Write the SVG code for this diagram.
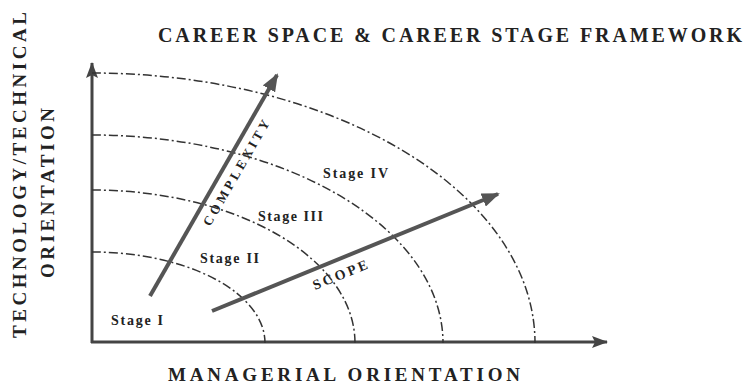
<svg xmlns="http://www.w3.org/2000/svg" width="745" height="384" viewBox="0 0 745 384">
<style>
.t{font-family:"Liberation Serif","Times New Roman",serif;font-weight:bold;fill:#222}
.arc{fill:none;stroke:#333;stroke-width:1.5;stroke-dasharray:9 3 2 3}
.ax{stroke:#444;stroke-width:3;fill:none}
.dir{stroke:#555;stroke-width:4;fill:none}
</style>
<defs>
<marker id="ah" markerUnits="userSpaceOnUse" markerWidth="18" markerHeight="14" viewBox="0 0 18 14" refX="16" refY="7" orient="auto">
<path d="M0,0 L18,7 L0,14 Z" fill="#555"/>
</marker>
<marker id="axh" markerUnits="userSpaceOnUse" markerWidth="16" markerHeight="12" viewBox="0 0 16 12" refX="15" refY="6" orient="auto">
<path d="M0,0 L16,6 L0,12 L3,6 Z" fill="#444"/>
</marker>
</defs>
<rect width="745" height="384" fill="#fff"/>
<text class="t" x="158" y="42" font-size="20" textLength="584" lengthAdjust="spacing">CAREER SPACE &amp; CAREER STAGE FRAMEWORK</text>
<g id="y-label">
<text class="t" font-size="19" transform="translate(26,338) rotate(-90)" textLength="326" lengthAdjust="spacing">TECHNOLOGY/TECHNICAL</text>
<text class="t" font-size="19" transform="translate(54,278) rotate(-90)" textLength="170" lengthAdjust="spacing">ORIENTATION</text>
</g>
<g id="x-label">
<text class="t" x="168" y="381" font-size="19" textLength="352" lengthAdjust="spacing">MANAGERIAL ORIENTATION</text>
</g>
<g id="connectors">
<line id="y-axis" class="ax" x1="92" y1="343" x2="92" y2="63" marker-end="url(#axh)"/>
<line id="x-axis" class="ax" x1="91" y1="342" x2="607" y2="342" marker-end="url(#axh)"/>
<path class="arc" d="M92,252 A173,91 0 0 1 265,343"/>
<path class="arc" d="M92,190 A263,153 0 0 1 355,343"/>
<path class="arc" d="M92,135 A351,208 0 0 1 443,343"/>
<path class="arc" d="M92,73 A443,270 0 0 1 535,343"/>
<line id="complexity" class="dir" x1="150" y1="296" x2="277" y2="75" marker-end="url(#ah)"/>
<line id="scope" class="dir" x1="212" y1="311" x2="498" y2="194" marker-end="url(#ah)"/>
</g>
<g id="complexity-label">
<text class="t" font-size="13" transform="translate(210,227) rotate(-60)" textLength="120" lengthAdjust="spacing">COMPLEXITY</text>
</g>
<g id="scope-label">
<text class="t" font-size="14" transform="translate(315,290) rotate(-22)" textLength="58" lengthAdjust="spacing">SCOPE</text>
</g>
<g id="stage1"><text class="t" x="111" y="325" font-size="14" textLength="52" lengthAdjust="spacing">Stage I</text></g>
<g id="stage2"><text class="t" x="200" y="263" font-size="14" textLength="59" lengthAdjust="spacing">Stage II</text></g>
<g id="stage3"><text class="t" x="258" y="221" font-size="14" textLength="65" lengthAdjust="spacing">Stage III</text></g>
<g id="stage4"><text class="t" x="323" y="178" font-size="14" textLength="65" lengthAdjust="spacing">Stage IV</text></g>
</svg>
